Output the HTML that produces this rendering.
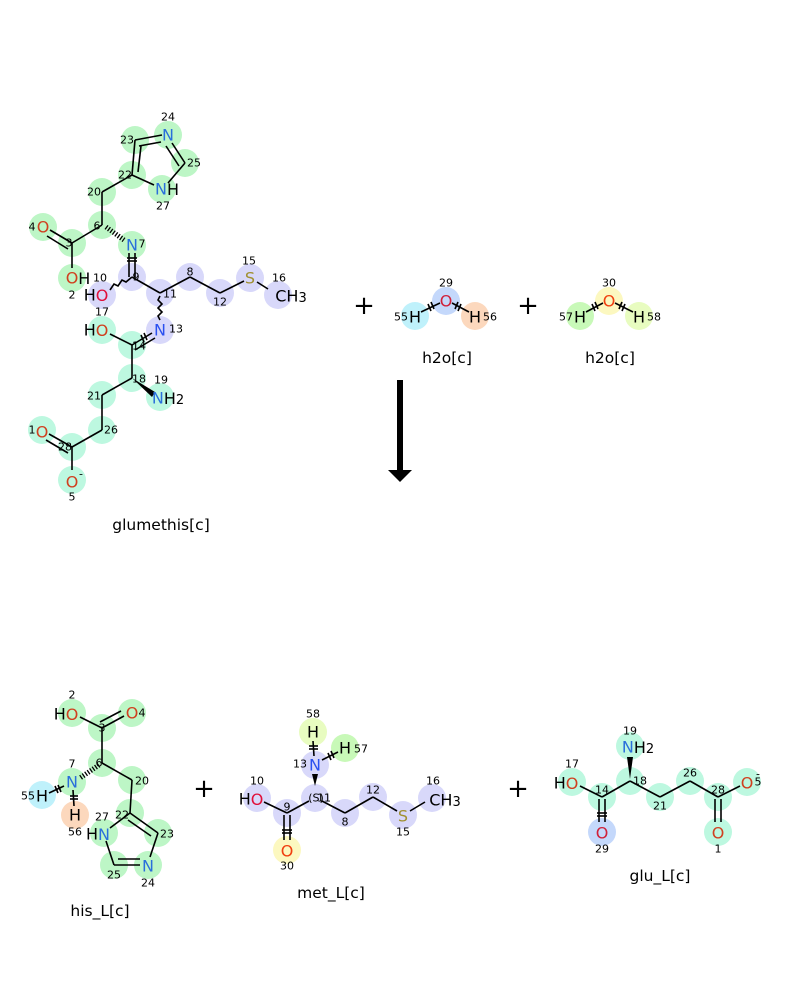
<!DOCTYPE html>
<html><head><meta charset="utf-8"><style>
html,body{margin:0;padding:0;background:#fff;}
svg{display:block}
text{font-family:"DejaVu Sans","Liberation Sans",sans-serif;}
.a{font-size:16px;text-anchor:middle;dominant-baseline:central}
.n{font-size:11px;fill:#000;text-anchor:middle;dominant-baseline:central}
.l{font-size:15.5px;text-anchor:middle;fill:#000}
line,polyline{stroke:#000;stroke-width:1.6;fill:none}
.g{fill:#bdf6c6}.b{fill:#d8d8fa}.q{fill:#bdf8e0}
circle{r:14px}
</style></head><body>
<svg width="800" height="1000" viewBox="0 0 800 1000" xmlns="http://www.w3.org/2000/svg">
<g>
<circle class="g" cx="168" cy="135" r="14"/><circle class="g" cx="135" cy="140" r="14"/><circle class="g" cx="185" cy="163" r="14"/>
<circle class="g" cx="132" cy="175" r="14"/><circle class="g" cx="162" cy="189" r="14"/><circle class="g" cx="102" cy="192" r="14"/>
<circle class="g" cx="102" cy="225" r="14"/><circle class="g" cx="43" cy="227" r="14"/><circle class="g" cx="72" cy="243" r="14"/>
<circle class="g" cx="72" cy="278" r="14"/><circle class="g" cx="132" cy="245" r="14"/>
<circle class="b" cx="132" cy="277" r="14"/><circle class="b" cx="102" cy="295" r="14"/><circle class="b" cx="160" cy="293" r="14"/>
<circle class="b" cx="190" cy="277" r="14"/><circle class="b" cx="220" cy="293" r="14"/><circle class="b" cx="250" cy="278" r="14"/>
<circle class="b" cx="278" cy="295" r="14"/><circle class="b" cx="160" cy="330" r="14"/>
<circle class="q" cx="102" cy="330" r="14"/><circle class="q" cx="132" cy="345" r="14"/><circle class="q" cx="132" cy="378" r="14"/>
<circle class="q" cx="160" cy="397" r="14"/><circle class="q" cx="102" cy="395" r="14"/><circle class="q" cx="102" cy="430" r="14"/>
<circle class="q" cx="72" cy="447" r="14"/><circle class="q" cx="42" cy="430" r="14"/><circle class="q" cx="72" cy="480" r="14"/>
</g>
<g>
<line x1="135" y1="140" x2="162" y2="135"/><line x1="139" y1="146" x2="161" y2="142"/>
<line x1="172" y1="143" x2="185" y2="163"/><line x1="166" y1="146" x2="179" y2="166"/>
<line x1="185" y1="163" x2="168" y2="183"/>
<line x1="132" y1="175" x2="154" y2="185"/>
<line x1="132" y1="175" x2="135" y2="140"/><line x1="138" y1="172" x2="141" y2="146"/>
<line x1="132" y1="175" x2="102" y2="192"/><line x1="102" y1="192" x2="102" y2="225"/>
<line x1="102" y1="225" x2="72" y2="243"/>
<line x1="72" y1="243" x2="50" y2="230"/><line x1="68" y1="249" x2="47" y2="236"/>
<line x1="72" y1="243" x2="72" y2="268"/>
<line x1="106" y1="227" x2="124" y2="240" style="stroke-dasharray:1.3,1.7;stroke-width:5"/>
<line x1="129" y1="253" x2="129" y2="277"/><line x1="135" y1="253" x2="135" y2="277"/>
<line x1="127" y1="258" x2="137" y2="258"/><line x1="127" y1="261" x2="137" y2="261"/>
<polyline points="132,277 126,282 122,280 118,286 114,284 110,290"/>
<line x1="132" y1="277" x2="160" y2="293"/><line x1="160" y1="293" x2="190" y2="277"/>
<line x1="190" y1="277" x2="220" y2="293"/><line x1="220" y1="293" x2="244" y2="281"/>
<line x1="257" y1="282" x2="268" y2="289"/>
<polyline points="160,296 158,300 162,304 158,308 162,312 158,316 160,320"/>
<line x1="110" y1="334" x2="132" y2="345"/>
<line x1="132" y1="345" x2="152" y2="333"/><line x1="135" y1="350" x2="155" y2="338"/>
<line x1="141" y1="335" x2="144" y2="342"/><line x1="144" y1="333" x2="147" y2="340"/>
<line x1="132" y1="345" x2="132" y2="378"/>
<polygon points="132,378 155,392 152,397" fill="#000"/>
<line x1="132" y1="378" x2="102" y2="395"/><line x1="102" y1="395" x2="102" y2="430"/>
<line x1="102" y1="430" x2="72" y2="447"/>
<line x1="72" y1="447" x2="49" y2="434"/><line x1="68" y1="453" x2="46" y2="440"/>
<line x1="72" y1="447" x2="72" y2="470"/>
</g>
<text class="a" x="168" y="135" fill="#2a6fdb">N</text>
<text class="a" x="167" y="189" fill="#2a6fdb">N<tspan fill="#000">H</tspan></text>
<text class="a" x="43" y="227" fill="#d04020">O</text>
<text class="a" x="78" y="278" fill="#d04020">O<tspan fill="#000">H</tspan></text>
<text class="a" x="132" y="245" fill="#2a6fdb">N</text>
<text class="a" x="96" y="295" fill="#000">H<tspan fill="#e0103a">O</tspan></text>
<text class="a" x="250" y="278" fill="#a09030">S</text>
<text class="a" x="291" y="296" fill="#000">CH<tspan font-size="13" dy="2">3</tspan></text>
<text class="a" x="160" y="330" fill="#2a50f0">N</text>
<text class="a" x="96" y="330" fill="#000">H<tspan fill="#d04020">O</tspan></text>
<text class="a" x="168" y="398" fill="#2a6fdb">N<tspan fill="#000">H<tspan font-size="13" dy="2">2</tspan></tspan></text>
<text class="a" x="42" y="432" fill="#d04020">O</text>
<text class="a" x="72" y="482" fill="#d04020">O</text>
<text class="n" x="81" y="474">-</text>
<g>
<text class="n" x="168" y="117">24</text><text class="n" x="127" y="140">23</text><text class="n" x="194" y="163">25</text>
<text class="n" x="125" y="175">22</text><text class="n" x="163" y="206">27</text><text class="n" x="94" y="192">20</text>
<text class="n" x="97" y="226">6</text><text class="n" x="32" y="227">4</text><text class="n" x="69" y="243">3</text>
<text class="n" x="72" y="295">2</text><text class="n" x="142" y="244">7</text><text class="n" x="136" y="277">9</text>
<text class="n" x="100" y="278">10</text><text class="n" x="170" y="294">11</text><text class="n" x="190" y="272">8</text>
<text class="n" x="220" y="302">12</text><text class="n" x="249" y="261">15</text><text class="n" x="279" y="278">16</text>
<text class="n" x="176" y="329">13</text><text class="n" x="102" y="312">17</text><text class="n" x="139" y="346">14</text>
<text class="n" x="139" y="379">18</text><text class="n" x="161" y="380">19</text><text class="n" x="94" y="396">21</text>
<text class="n" x="111" y="430">26</text><text class="n" x="65" y="447">28</text><text class="n" x="32" y="430">1</text>
<text class="n" x="72" y="497">5</text>
</g>
<text class="l" x="161" y="530">glumethis[c]</text>

<circle cx="415" cy="316" r="14" fill="#bff1fb"/><circle cx="446" cy="301" r="14" fill="#c4d8fb"/><circle cx="475" cy="316" r="14" fill="#fcd8bd"/>
<line x1="421" y1="312" x2="440" y2="303"/><line x1="452" y1="303" x2="469" y2="312"/>
<line x1="428" y1="304" x2="431" y2="311"/><line x1="431" y1="302" x2="434" y2="309"/>
<line x1="458" y1="302" x2="455" y2="309"/><line x1="461" y1="304" x2="458" y2="311"/>
<text class="a" x="415" y="317" fill="#000">H</text><text class="a" x="446" y="301" fill="#d0203a">O</text><text class="a" x="475" y="317" fill="#000">H</text>
<text class="n" x="401" y="317">55</text><text class="n" x="446" y="283">29</text><text class="n" x="490" y="317">56</text>
<text class="l" x="447" y="363">h2o[c]</text>

<circle cx="580" cy="316" r="14" fill="#c8f9b8"/><circle cx="609" cy="301" r="14" fill="#fcf8c0"/><circle cx="639" cy="316" r="14" fill="#e8fcc0"/>
<line x1="586" y1="312" x2="603" y2="303"/><line x1="615" y1="303" x2="633" y2="312"/>
<line x1="592" y1="304" x2="595" y2="311"/><line x1="595" y1="302" x2="598" y2="309"/>
<line x1="622" y1="302" x2="619" y2="309"/><line x1="625" y1="304" x2="622" y2="311"/>
<text class="a" x="580" y="317" fill="#000">H</text><text class="a" x="609" y="301" fill="#f04010">O</text><text class="a" x="639" y="317" fill="#000">H</text>
<text class="n" x="566" y="317">57</text><text class="n" x="609" y="283">30</text><text class="n" x="654" y="317">58</text>
<text class="l" x="610" y="363">h2o[c]</text>

<text x="364" y="314" font-size="26" text-anchor="middle" fill="#000">+</text>
<text x="528" y="314" font-size="26" text-anchor="middle" fill="#000">+</text>

<rect x="397" y="380" width="6" height="90" fill="#000"/>
<polygon points="388,470 412,470 400,482" fill="#000"/>

<g>
<circle class="g" cx="72" cy="713" r="14"/><circle class="g" cx="132" cy="713" r="14"/><circle class="g" cx="102" cy="728" r="14"/>
<circle class="g" cx="102" cy="763" r="14"/><circle class="g" cx="72" cy="782" r="14"/><circle class="g" cx="132" cy="780" r="14"/>
<circle class="g" cx="130" cy="813" r="14"/><circle class="g" cx="104" cy="833" r="14"/><circle class="g" cx="158" cy="833" r="14"/>
<circle class="g" cx="114" cy="865" r="14"/><circle class="g" cx="148" cy="865" r="14"/>
<circle cx="42" cy="795" r="14" fill="#bff1fb"/><circle cx="75" cy="815" r="14" fill="#fcd8bd"/>
</g>
<line x1="80" y1="717" x2="102" y2="728"/>
<line x1="102" y1="728" x2="124" y2="716"/><line x1="100" y1="722" x2="121" y2="711"/>
<line x1="102" y1="728" x2="102" y2="763"/>
<line x1="99" y1="765" x2="80" y2="778" style="stroke-dasharray:1.3,1.7;stroke-width:5"/>
<line x1="102" y1="763" x2="132" y2="780"/><line x1="132" y1="780" x2="130" y2="813"/>
<line x1="130" y1="813" x2="158" y2="833"/><line x1="128" y1="820" x2="151" y2="836"/>
<line x1="158" y1="833" x2="150" y2="857"/>
<line x1="140" y1="865" x2="114" y2="865"/><line x1="140" y1="859" x2="118" y2="859"/>
<line x1="114" y1="865" x2="106" y2="841"/><line x1="110" y1="828" x2="130" y2="813"/>
<line x1="64" y1="786" x2="49" y2="793"/><line x1="55" y1="786" x2="58" y2="793"/><line x1="58" y1="785" x2="61" y2="792"/>
<line x1="73" y1="790" x2="74" y2="806"/><line x1="70" y1="796" x2="78" y2="796"/><line x1="70" y1="799" x2="78" y2="799"/>
<text class="a" x="66" y="714" fill="#000">H<tspan fill="#d04020">O</tspan></text>
<text class="a" x="132" y="713" fill="#d04020">O</text>
<text class="a" x="72" y="782" fill="#2a6fdb">N</text>
<text class="a" x="42" y="796" fill="#000">H</text><text class="a" x="75" y="815" fill="#000">H</text>
<text class="a" x="98" y="834" fill="#000">H<tspan fill="#2a6fdb">N</tspan></text>
<text class="a" x="148" y="866" fill="#2a6fdb">N</text>
<g>
<text class="n" x="72" y="695">2</text><text class="n" x="142" y="713">4</text><text class="n" x="102" y="728">3</text>
<text class="n" x="99" y="763">6</text><text class="n" x="72" y="764">7</text><text class="n" x="142" y="781">20</text>
<text class="n" x="122" y="815">22</text><text class="n" x="102" y="817">27</text><text class="n" x="167" y="834">23</text>
<text class="n" x="114" y="875">25</text><text class="n" x="148" y="883">24</text><text class="n" x="28" y="796">55</text>
<text class="n" x="75" y="832">56</text>
</g>
<text class="l" x="100" y="916">his_L[c]</text>

<text x="204" y="797" font-size="26" text-anchor="middle" fill="#000">+</text>

<g>
<circle class="b" cx="257" cy="798" r="14"/><circle class="b" cx="287" cy="813" r="14"/><circle class="b" cx="315" cy="798" r="14"/>
<circle class="b" cx="315" cy="765" r="14"/><circle class="b" cx="345" cy="813" r="14"/><circle class="b" cx="373" cy="797" r="14"/>
<circle class="b" cx="403" cy="815" r="14"/><circle class="b" cx="432" cy="798" r="14"/>
<circle cx="287" cy="850" r="14" fill="#fcf8c0"/><circle cx="313" cy="732" r="14" fill="#e8fcc0"/><circle cx="345" cy="748" r="14" fill="#c8f9b8"/>
</g>
<line x1="264" y1="802" x2="287" y2="813"/><line x1="287" y1="813" x2="309" y2="801"/>
<line x1="284" y1="815" x2="284" y2="840"/><line x1="290" y1="815" x2="290" y2="840"/>
<line x1="282" y1="830" x2="292" y2="830"/><line x1="282" y1="833" x2="292" y2="833"/>
<line x1="322" y1="801" x2="345" y2="813"/><line x1="345" y1="813" x2="373" y2="797"/>
<line x1="373" y1="797" x2="397" y2="811"/><line x1="410" y1="811" x2="425" y2="802"/>
<polygon points="315,786 312,774 318,774" fill="#000"/>
<line x1="314" y1="756" x2="313" y2="741"/><line x1="309" y1="746" x2="318" y2="746"/><line x1="309" y1="749" x2="318" y2="749"/>
<line x1="322" y1="760" x2="338" y2="752"/><line x1="328" y1="753" x2="331" y2="760"/><line x1="331" y1="751" x2="334" y2="758"/>
<text class="a" x="251" y="799" fill="#000">H<tspan fill="#e0103a">O</tspan></text>
<text class="a" x="287" y="851" fill="#f04010">O</text>
<text class="a" x="315" y="765" fill="#2a50f0">N</text>
<text class="a" x="313" y="732" fill="#000">H</text><text class="a" x="345" y="748" fill="#000">H</text>
<text class="a" x="403" y="816" fill="#a09030">S</text>
<text class="a" x="445" y="800" fill="#000">CH<tspan font-size="13" dy="2">3</tspan></text>
<text class="n" x="316" y="798" fill="#556" font-size="12">(S)</text>
<g>
<text class="n" x="257" y="781">10</text><text class="n" x="287" y="807">9</text><text class="n" x="287" y="866">30</text>
<text class="n" x="324" y="798">11</text><text class="n" x="300" y="764">13</text><text class="n" x="313" y="714">58</text>
<text class="n" x="361" y="749">57</text><text class="n" x="345" y="822">8</text><text class="n" x="373" y="790">12</text>
<text class="n" x="403" y="832">15</text><text class="n" x="433" y="781">16</text>
</g>
<text class="l" x="331" y="898">met_L[c]</text>

<text x="518" y="797" font-size="26" text-anchor="middle" fill="#000">+</text>

<g>
<circle class="q" cx="572" cy="782" r="14"/><circle class="q" cx="602" cy="797" r="14"/><circle class="q" cx="630" cy="781" r="14"/>
<circle class="q" cx="630" cy="746" r="14"/><circle class="q" cx="660" cy="797" r="14"/><circle class="q" cx="690" cy="781" r="14"/>
<circle class="q" cx="718" cy="797" r="14"/><circle class="q" cx="747" cy="782" r="14"/><circle class="q" cx="718" cy="832" r="14"/>
<circle cx="602" cy="832" r="14" fill="#c4d8fb"/>
</g>
<line x1="580" y1="786" x2="602" y2="797"/><line x1="602" y1="797" x2="630" y2="781"/>
<line x1="599" y1="799" x2="599" y2="822"/><line x1="605" y1="799" x2="605" y2="822"/>
<line x1="597" y1="813" x2="607" y2="813"/><line x1="597" y1="816" x2="607" y2="816"/>
<polygon points="630,779 627,757 633,757" fill="#000"/>
<line x1="630" y1="781" x2="660" y2="797"/><line x1="660" y1="797" x2="690" y2="781"/>
<line x1="690" y1="781" x2="718" y2="797"/><line x1="718" y1="797" x2="740" y2="786"/>
<line x1="715" y1="799" x2="715" y2="822"/><line x1="721" y1="799" x2="721" y2="822"/>
<text class="a" x="566" y="783" fill="#000">H<tspan fill="#d04020">O</tspan></text>
<text class="a" x="602" y="833" fill="#d0203a">O</text>
<text class="a" x="638" y="747" fill="#2a6fdb">N<tspan fill="#000">H<tspan font-size="13" dy="2">2</tspan></tspan></text>
<text class="a" x="747" y="783" fill="#d04020">O</text>
<text class="a" x="718" y="833" fill="#d04020">O</text>
<g>
<text class="n" x="572" y="764">17</text><text class="n" x="602" y="790">14</text><text class="n" x="602" y="849">29</text>
<text class="n" x="640" y="781">18</text><text class="n" x="630" y="731">19</text><text class="n" x="660" y="806">21</text>
<text class="n" x="690" y="773">26</text><text class="n" x="718" y="790">28</text><text class="n" x="758" y="782">5</text>
<text class="n" x="758" y="774">-</text><text class="n" x="718" y="849">1</text>
</g>
<text class="l" x="660" y="881">glu_L[c]</text>
</svg>
</body></html>
